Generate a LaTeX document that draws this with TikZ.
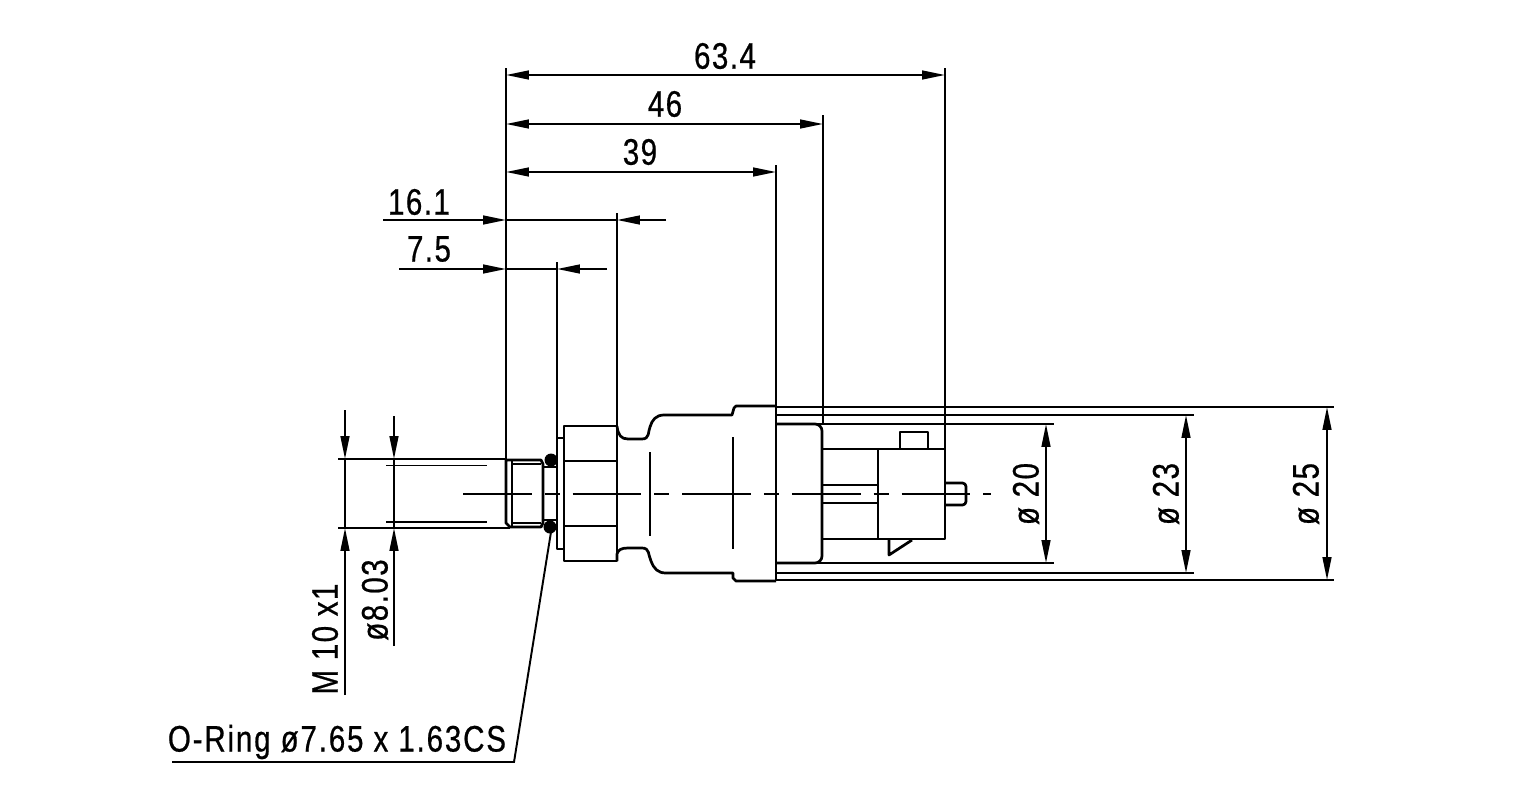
\documentclass[tikz,border=0pt]{standalone}
\usepackage{fontspec}
\newfontfamily\dimfont[FakeStretch=0.8,LetterSpace=4,FakeBold=0.6]{Liberation Sans}
\newfontfamily\ringfont[FakeStretch=0.8,LetterSpace=5,FakeBold=0.6]{Liberation Sans}
\usetikzlibrary{arrows.meta}
\begin{document}
\begin{tikzpicture}[x=0.02cm,y=-0.02cm,
  heavy/.style={line width=1.55pt,line join=round},
  thin line/.style={line width=1.1pt},
  centre line/.style={line width=1.1pt,dash pattern=on 39.1pt off 7.4pt on 8.5pt off 7.4pt},
  dim tip/.style={-{Triangle[length=13pt,width=5pt]}},
  dim both/.style={{Triangle[length=13pt,width=5pt]}-{Triangle[length=13pt,width=5pt]}},
  dim text/.style={font=\dimfont\fontsize{21}{24}\selectfont,inner sep=0pt}]
\useasboundingbox (0,0) rectangle (1535,808);
%thread end
  \draw[heavy] (543,464) -- (541,460) -- (506,460) -- (506,523) -- (510,527) -- (541,527) -- (543,523) -- (543,464) -- cycle;
  \draw[thin line] (512,460) -- (512,527);
  \draw[thin line] (512,464) -- (541,464);
  \draw[thin line] (512,523) -- (541,523);
  \draw[heavy] (543,467) -- (557,467);
  \draw[heavy] (543,520) -- (557,520);
%o-ring
  \fill (551,460) circle (6.5);
  \fill (550,527) circle (6.5);
%flange and hexagon
  \draw[heavy] (564,438) -- (557,438) -- (557,549) -- (564,549);
  \draw[heavy] (564,426) rectangle (617,561);
  \draw[heavy] (564,461) -- (617,461);
  \draw[heavy] (564,526) -- (617,526);
%housing
  \draw[heavy] (617,426) .. controls (618,435) and (621,439) .. (628,439) -- (642,439)
    .. controls (650,439) and (648,431) .. (650,427) .. controls (652,420) and (656,415) .. (664,415)
    -- (732,415) -- (734,408) -- (736,406) -- (776,406);
  \draw[heavy] (617,561) -- (617,554) .. controls (618,550) and (621,548) .. (628,548) -- (642,548)
    .. controls (650,548) and (648,555) .. (651,561) .. controls (654,569) and (658,573) .. (666,573)
    -- (733,573) -- (733,578) -- (736,581) -- (776,581);
  \draw[heavy] (776,406) -- (776,581);
  \draw[thin line] (650,452) -- (650,536);
  \draw[thin line] (733,437) -- (733,549);
%rear box
  \draw[heavy,rounded corners=4] (776,424) -- (822,424) -- (822,563) -- (776,563);
%connector
  \draw[heavy] (822,449) -- (945,449) -- (945,539) -- (822,539);
  \draw[heavy] (878,449) -- (878,539);
  \draw[heavy] (900,449) -- (900,432) -- (928,432) -- (928,449);
  \draw[heavy] (822,485) -- (878,485);
  \draw[heavy] (822,503) -- (878,503);
  \draw[heavy,rounded corners=2] (945,483) -- (966,483) -- (966,505) -- (945,505);
  \draw[heavy] (912,540) -- (889,555) -- (889,539);
%centre line
  \draw[centre line] (463,494) -- (991,494);
%long horizontals
  \draw[thin line] (776,407) -- (1334,407);
  \draw[thin line] (776,415) -- (1194,415);
  \draw[thin line] (776,424) -- (1054,424);
  \draw[thin line] (776,563) -- (1054,563);
  \draw[thin line] (776,573) -- (1194,573);
  \draw[thin line] (776,580) -- (1334,580);
%left extensions
  \draw[thin line] (338,459) -- (506,459);
  \draw[thin line] (338,528) -- (510,528);
  \draw[thin line] (386,465.5) -- (487,465.5);
  \draw[thin line] (386,522) -- (487,522);
%upper extensions
  \draw[thin line] (506,68) -- (506,460);
  \draw[thin line] (557,262) -- (557,438);
  \draw[thin line] (617,213) -- (617,426);
  \draw[thin line] (776,165) -- (776,406);
  \draw[thin line] (823,115) -- (823,424);
  \draw[thin line] (945,68) -- (945,449);
%top dimensions
  \draw[thin line,dim both] (506,75) -- (945,75);
  \draw[thin line,dim both] (506,124) -- (823,124);
  \draw[thin line,dim both] (506,172) -- (776,172);
  \node[dim text] (len634) at (725,56) {63.4};
  \node[dim text] (len46) at (665,104) {46};
  \node[dim text] (len39) at (640,152) {39};
%outside dimensions
  \draw[thin line,dim tip] (383,220) -- (506,220);
  \draw[thin line] (506,220) -- (617,220);
  \draw[thin line,dim tip] (666,220) -- (617,220);
  \node[dim text] (len161) at (419,202) {16.1};
  \draw[thin line,dim tip] (399,269) -- (506,269);
  \draw[thin line] (506,269) -- (557,269);
  \draw[thin line,dim tip] (607,269) -- (557,269);
  \node[dim text] (len75) at (429,249) {7.5};
%thread dimensions
  \draw[thin line,dim tip] (345,410) -- (345,459);
  \draw[thin line] (345,459) -- (345,528);
  \draw[thin line,dim tip] (345,695) -- (345,528);
  \node[dim text,rotate=90] (thread) at (325,639) {M 10 x1};
  \draw[thin line,dim tip] (394,416) -- (394,459);
  \draw[thin line] (394,459) -- (394,528);
  \draw[thin line,dim tip] (394,646) -- (394,528);
  \node[dim text,rotate=90] (core) at (375,600) {ø8.03};
%diameters
  \draw[thin line,dim both] (1046,424) -- (1046,563);
  \node[dim text,rotate=90] (dia20) at (1026,494) {ø 20};
  \draw[thin line,dim both] (1186,415) -- (1186,573);
  \node[dim text,rotate=90] (dia23) at (1166,494) {ø 23};
  \draw[thin line,dim both] (1327,407) -- (1327,580);
  \node[dim text,rotate=90] (dia25) at (1306,494) {ø 25};
%o-ring label
  \node[dim text,font=\ringfont\fontsize{21}{24}\selectfont] (oring) at (337,742) {O-Ring ø7.65 x 1.63CS};
  \coordinate (ringfoot) at (551,532);
  \draw[thin line] (172,762) -- (514,762) -- (ringfoot);
\end{tikzpicture}
\end{document}
